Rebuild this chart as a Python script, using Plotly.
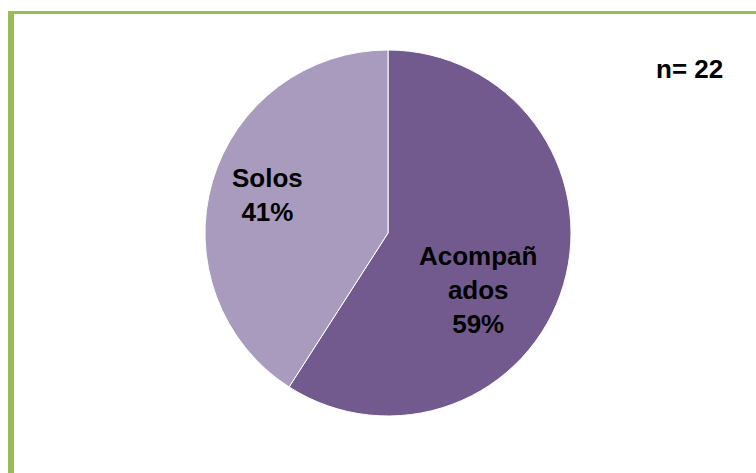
import math
import plotly.graph_objects as go

labels = ["Acompañados", "Solos"]
label_text = ["Acompañ<br>ados", "Solos"]
values = [13, 9]
colors = ["#725A8F", "#A99BBE"]
n_text = "n= 22"

W, H = 756, 473
CX, CY, R = 388, 233, 183  # pie centre / radius in pixels (layout)

def px(x):
    return x / W

def py(y):
    return 1 - y / H

# label placement (angle offset in degrees, radius fraction) like the spreadsheet's layout
label_adjust = [(16, 0.58), (1, 0.69)]

fig = go.Figure(go.Pie(
    labels=labels,
    values=values,
    textinfo="none",
    marker=dict(colors=colors, line=dict(color="white", width=1)),
    sort=False,
    direction="clockwise",
    rotation=0,
    hoverinfo="skip",
    showlegend=False,
    domain=dict(x=[px(CX - R), px(CX + R)], y=[py(CY + R), py(CY - R)]),
))

font = dict(family="Liberation Sans, Arial", size=26, color="black", weight="bold")
annotations = []
total = sum(values)
start = 0.0
for v, t, (da, rf) in zip(values, label_text, label_adjust):
    frac = v / total
    mid = (start + frac / 2) * 360 + da
    start += frac
    x = CX + rf * R * math.sin(math.radians(mid))
    y = CY - rf * R * math.cos(math.radians(mid))
    annotations.append(dict(text=f"{t}<br>{frac:.0%}", xref="paper", yref="paper",
                            x=px(x), y=py(y), xanchor="center", yanchor="middle",
                            showarrow=False, font=font))

annotations.append(dict(text=n_text, xref="paper", yref="paper", x=px(689), y=py(69),
                        xanchor="center", yanchor="middle", showarrow=False, font=font))

fig.update_layout(
    width=W, height=H,
    margin=dict(l=0, r=0, t=0, b=0),
    paper_bgcolor="white",
    plot_bgcolor="white",
    shapes=[
        dict(type="rect", xref="paper", yref="paper",
             x0=px(8), x1=px(14), y0=0, y1=py(11),
             fillcolor="#9BBB59", line=dict(width=0), layer="below"),
        dict(type="rect", xref="paper", yref="paper",
             x0=px(8), x1=1, y0=py(14), y1=py(11),
             fillcolor="#9BBB59", line=dict(width=0), layer="below"),
    ],
    annotations=annotations,
)

fig.write_html("out.html")
